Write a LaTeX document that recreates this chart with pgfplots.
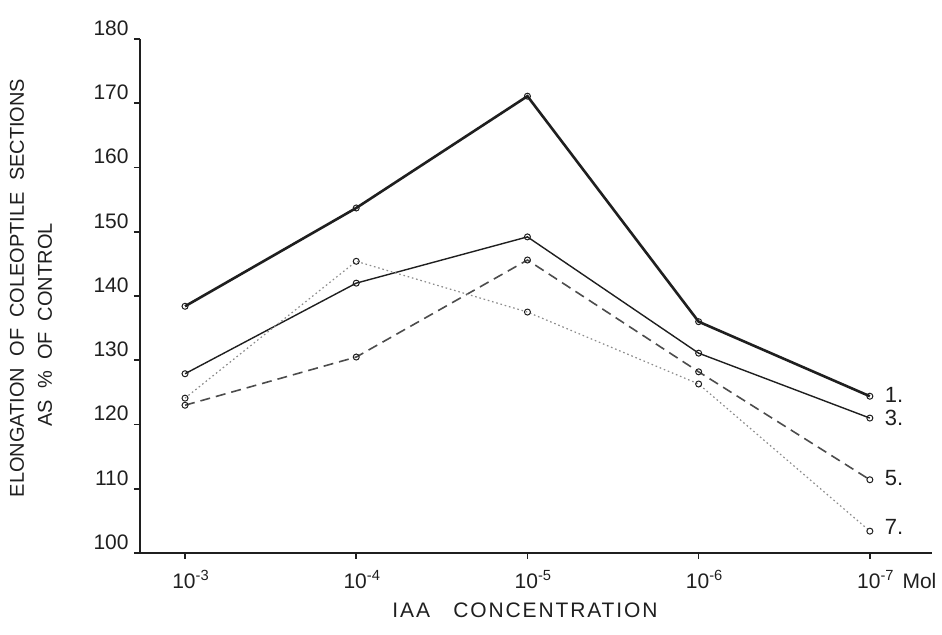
\documentclass[border=0pt]{standalone}
\usepackage{fontspec}
\setmainfont{Liberation Sans}
\usepackage{pgfplots}
\pgfplotsset{compat=1.18}
\definecolor{ink}{gray}{0.12}
\begin{document}
\begin{tikzpicture}[x=1pt,y=1pt]
\begin{axis}[
  at={(0,0)}, anchor=south west,
  scale only axis, width=396pt, height=257pt,
  xmin=-0.263, xmax=4.363, ymin=100, ymax=180,
  axis lines=left,
  axis line style={-, line width=0.9pt, ink},
  tick style={line width=0.8pt, ink},
  tick align=outside, major tick length=3pt,
  xtick={0,1,2,3,4},
  xticklabels={10\textsuperscript{-3},10\textsuperscript{-4},10\textsuperscript{-5},10\textsuperscript{-6},10\textsuperscript{-7}\rlap{\hspace{4pt}Mol}},
  ytick={100,110,...,180},
  /pgf/number format/assume math mode=true,
  ticklabel style={font=\fontsize{10.5}{12}\selectfont, text=ink},
  xticklabel style={xshift=3pt, yshift=-2pt},
  yticklabel style={anchor=south east, inner sep=1.5pt, xshift=-1pt},
  clip=false,
  mark options={solid, fill=white, draw=ink, line width=0.5pt},
]
\addplot[ink, line width=1.3pt, mark=o, mark size=1.5pt] coordinates {
  (0,138.4) (1,153.7) (2,171.1) (3,136.0) (4,124.4)};
\addplot[ink, line width=0.7pt, mark=o, mark size=1.5pt] coordinates {
  (0,127.9) (1,142.0) (2,149.2) (3,131.1) (4,121.0)};
\addplot[black!70, line width=0.8pt, dash pattern=on 5pt off 3pt, mark=o, mark size=1.5pt] coordinates {
  (0,123.0) (1,130.5) (2,145.6) (3,128.2) (4,111.4)};
\addplot[black!45, line width=0.6pt, dash pattern=on 0.8pt off 1.4pt, mark=o, mark size=1.5pt] coordinates {
  (0,124.1) (1,145.4) (2,137.5) (3,126.3) (4,103.4)};
\node[anchor=west, xshift=4pt, text=ink, font=\fontsize{11}{13}\selectfont] at (axis cs:4,124.6) {1.};
\node[anchor=west, xshift=4pt, text=ink, font=\fontsize{11}{13}\selectfont] at (axis cs:4,121.0) {3.};
\node[anchor=west, xshift=4pt, text=ink, font=\fontsize{11}{13}\selectfont] at (axis cs:4,111.6) {5.};
\node[anchor=west, xshift=4pt, text=ink, font=\fontsize{11}{13}\selectfont] at (axis cs:4,104.0) {7.};
\end{axis}
\node[rotate=90, text=ink, font=\fontsize{10}{12}\selectfont] at (-61.5,132.5) {ELONGATION\ \ OF\ \ COLEOPTILE\ \ SECTIONS};
\node[rotate=90, text=ink, font=\fontsize{10}{12}\selectfont] at (-47.5,114) {AS\ \ \%\ \ OF\ \ CONTROL};
\node[text=ink, font=\fontsize{10.5}{12}\selectfont\addfontfeature{LetterSpace=9}] at (192.5,-28.5) {IAA\ \ \ CONCENTRATION};
\pgfresetboundingbox
\useasboundingbox (-70,-41) rectangle (401,276.5);
\end{tikzpicture}
\end{document}
